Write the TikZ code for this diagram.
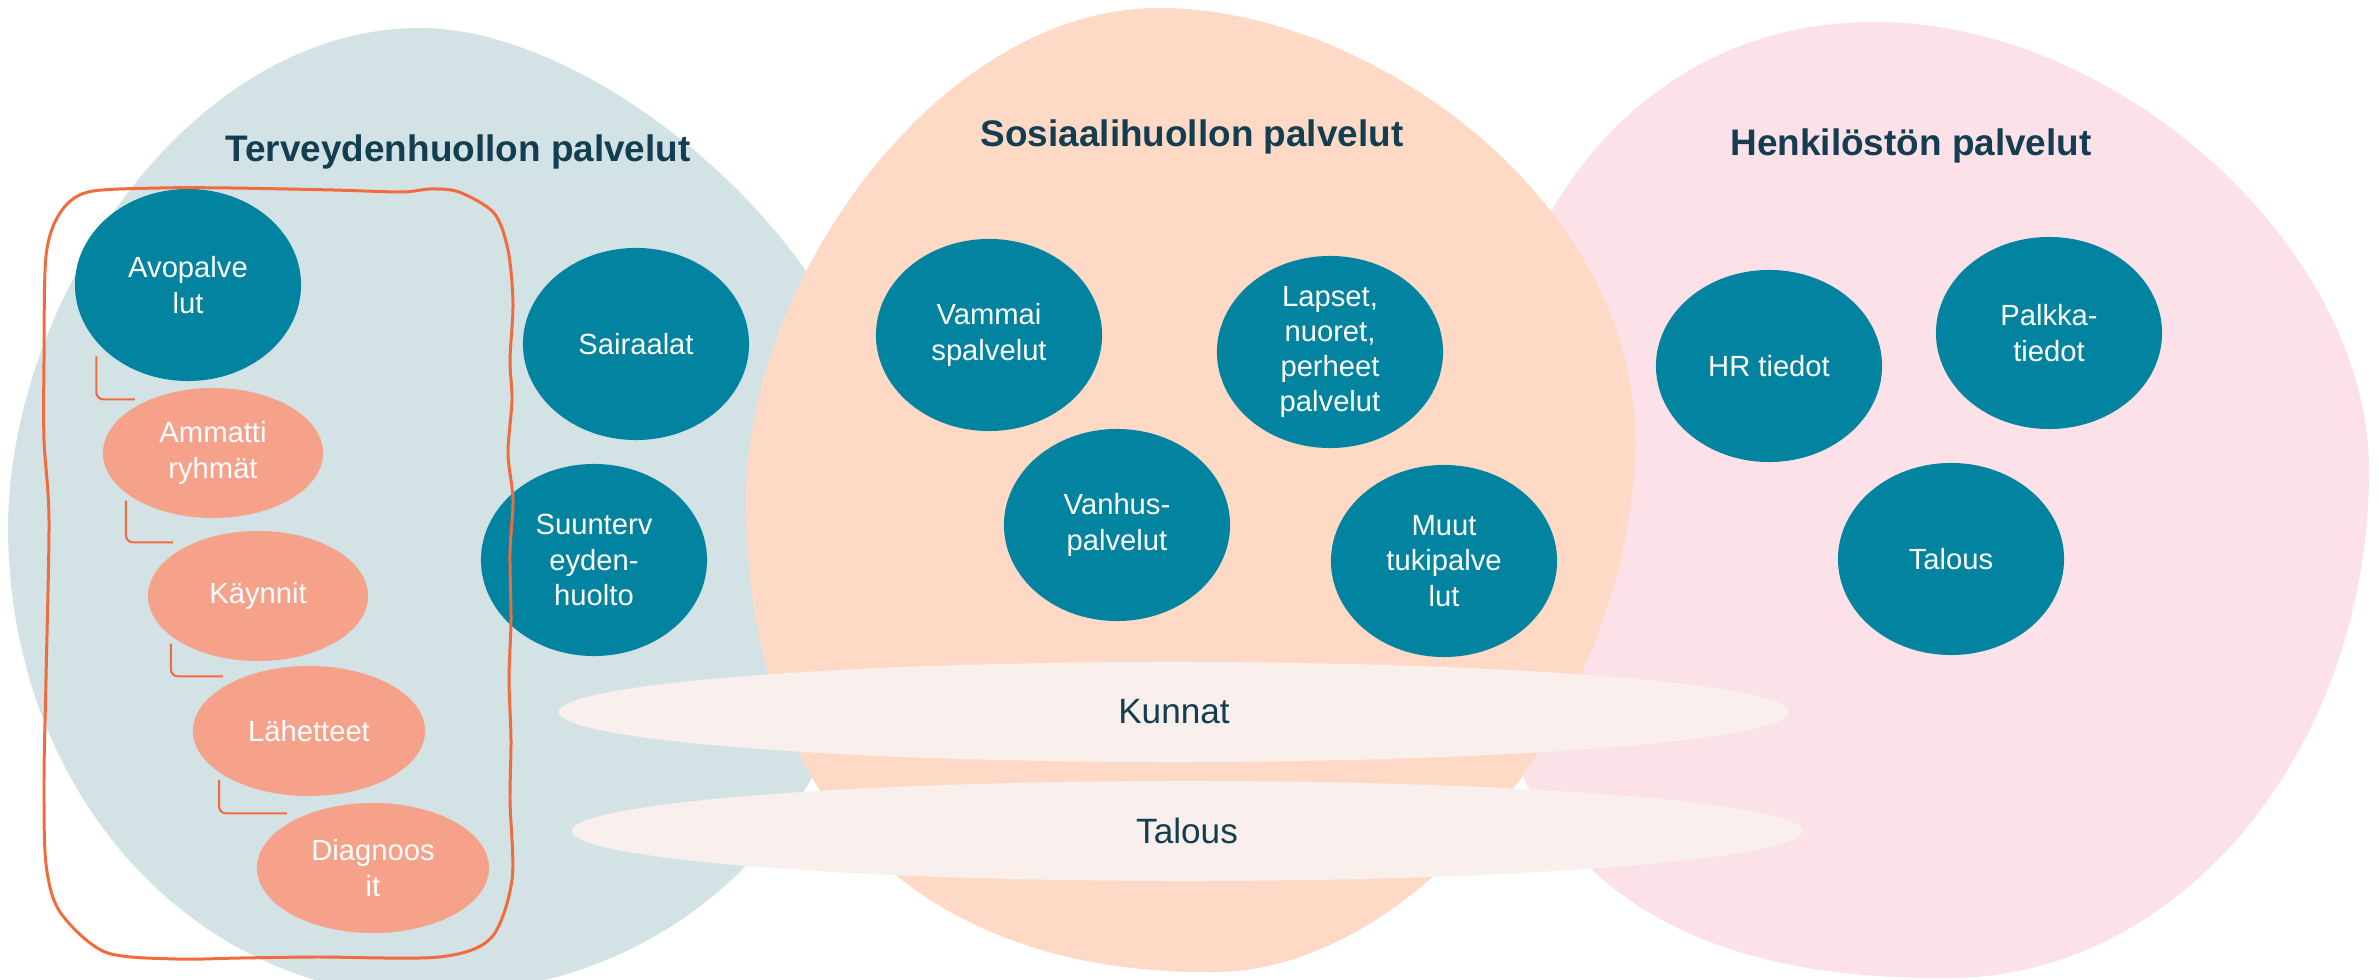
\documentclass[tikz,border=0pt]{standalone}
\usepackage{fontspec}
\setmainfont{Liberation Sans}
\usetikzlibrary{shapes.geometric}

\definecolor{tealfill}{HTML}{02839F}
\definecolor{salmon}{HTML}{F6A189}
\definecolor{terveysbg}{HTML}{D3E3E5}
\definecolor{sosiaalibg}{HTML}{FEDAC6}
\definecolor{henkilobg}{HTML}{FDE1E9}
\definecolor{layerbg}{HTML}{F9EFEC}
\definecolor{penred}{HTML}{F26B3D}
\definecolor{navy}{HTML}{133D50}

\tikzset{
  service/.style={ellipse, fill=tealfill, text=white, minimum width=2.26cm, minimum height=1.92cm,
    inner sep=-4pt, align=center, font=\fontsize{8.3}{10}\selectfont},
  subitem/.style={ellipse, fill=salmon, text=white, minimum width=2.2cm, minimum height=1.3cm,
    inner sep=0pt, align=center, font=\fontsize{8.3}{10}\selectfont},
  layer/.style={ellipse, fill=layerbg, text=navy, minimum width=12.3cm, minimum height=1cm,
    inner sep=0pt, font=\fontsize{10}{12}\selectfont},
  heading/.style={text=navy, anchor=base, font=\fontsize{10.5}{12}\selectfont\bfseries},
  elbow/.style={draw=penred, line width=0.6pt, rounded corners=2pt},
}

\begin{document}
\begin{tikzpicture}[x=0.01cm, y=-0.01cm]
    \useasboundingbox (0,0) rectangle (2379,980);

    % background blobs
    \begin{scope}
        \clip (0,0) rectangle (2379,980);
        \fill[terveysbg] (420,28) .. controls (190,28) and (8,300) .. (8,530)
            .. controls (10,800) and (200,995) .. (420,995)
            .. controls (720,995) and (900,760) .. (880,450)
            .. controls (860,250) and (600,28) .. (420,28) -- cycle;
        \fill[henkilobg] (1875,22) .. controls (2120,22) and (2369,250) .. (2369,470)
            .. controls (2369,750) and (2180,978) .. (1948,978)
            .. controls (1680,980) and (1480,880) .. (1470,540)
            .. controls (1470,250) and (1620,22) .. (1875,22) -- cycle;
        \fill[sosiaalibg] (1159,8) .. controls (940,8) and (746,280) .. (746,500)
            .. controls (746,860) and (980,975) .. (1214,972)
            .. controls (1420,972) and (1635,700) .. (1635,440)
            .. controls (1635,200) and (1370,8) .. (1159,8) -- cycle;
    \end{scope}

    % headings
    \node[heading] (terveys) at (458,162) {Terveydenhuollon palvelut};
    \node[heading] (sosiaali) at (1192,147) {Sosiaalihuollon palvelut};
    \node[heading] (henkilo) at (1911,156) {Henkilöstön palvelut};

    % services
    \node[service] (avo) at (188,285) {Avopalve\\lut};
    \node[service] (sair) at (636,344) {Sairaalat};
    \node[service] (suun) at (594,560) {Suunterv\\eyden-\\huolto};
    \node[service] (vamm) at (989,335) {Vammai\\spalvelut};
    \node[service] (vanh) at (1117,525) {Vanhus-\\palvelut};
    \node[service] (laps) at (1330,352) {Lapset,\\nuoret,\\perheet\\palvelut};
    \node[service] (muut) at (1444,561) {Muut\\tukipalve\\lut};
    \node[service] (hr) at (1769,366) {HR tiedot};
    \node[service] (palk) at (2049,333) {Palkka-\\tiedot};
    \node[service] (tal) at (1951,559) {Talous};

    \node[subitem] (amm) at (213,453) {Ammatti\\ryhmät};
    \node[subitem] (kay) at (258,596) {Käynnit};
    \node[subitem, minimum width=2.32cm] (lah) at (309,731) {Lähetteet};
    \node[subitem, minimum width=2.32cm] (diag) at (373,868) {Diagnoos\\it};

    \node[layer] (kunnat) at (1174,712) {Kunnat};
    \node[layer] (talous) at (1187,831) {Talous};

    % hand drawn frame round the outpatient chain
    \draw[penred, line width=0.85pt] plot[smooth cycle, tension=0.5] coordinates {(88,192) (160,188) (230,188) (333,190) (402,192) (430,189) (459,192) (494,213) (508,250) (513,303) (510,360) (512,400) (508,453) (513,500) (510,553) (511,620) (509,679) (511,740) (510,800) (512,880) (491,938) (439,957) (316,957) (240,958) (175,959) (105,952) (60,912) (46,864) (44,780) (46,679) (49,520) (44,440) (44,362) (46,256) (60,213)};

    \draw[elbow] ([yshift=-4pt]avo.212) |- ([xshift=-4pt]amm.140);
    \draw[elbow] ([yshift=-2pt]amm.205) |- ([xshift=-6pt]kay.140);
    \draw[elbow] ([yshift=-2pt]kay.205) |- ([xshift=-6pt]lah.140);
    \draw[elbow] ([yshift=-2pt]lah.205) |- ([xshift=-6pt]diag.140);
\end{tikzpicture}
\end{document}
